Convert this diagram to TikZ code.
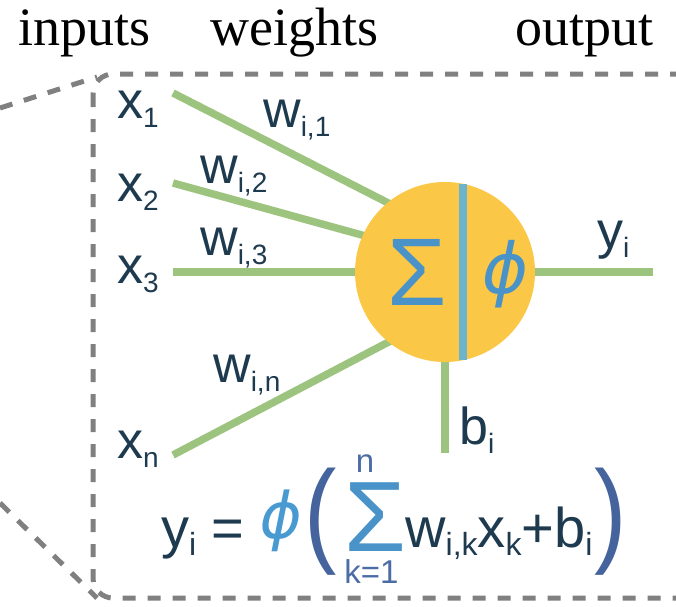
\documentclass[tikz,border=0pt]{standalone}
\usepackage{fontspec}
\setmainfont{Liberation Serif}
\newfontfamily\sansf{Liberation Sans}
\newfontfamily\phif[FakeSlant=0.2]{DejaVu Sans}
\definecolor{ink}{HTML}{1E3A4F}
\definecolor{wirec}{HTML}{9CC47F}
\definecolor{sun}{HTML}{FBC747}
\definecolor{divc}{HTML}{6CB3CC}
\definecolor{symb}{HTML}{4A93C9}
\definecolor{phic}{HTML}{4A9AD2}
\definecolor{limc}{HTML}{4C6CA6}
\definecolor{parc}{HTML}{45639C}
\definecolor{boxc}{HTML}{808080}
\newcommand\lsub[1]{\raisebox{-9pt}{\fontsize{28}{28}\selectfont #1}}
\newcommand\fsub[1]{\raisebox{-8pt}{\fontsize{32}{32}\selectfont #1}}
\begin{document}
\begin{tikzpicture}[x=1pt,y=-1pt,
  head/.style={inner sep=0pt, anchor=base west, font=\fontsize{54}{54}\selectfont},
  lbl/.style={inner sep=0pt, anchor=base west, text=ink, font={\sansf\fontsize{52}{52}\selectfont}},
  flbl/.style={inner sep=0pt, anchor=base west, text=ink, font={\sansf\fontsize{56}{56}\selectfont}},
  dashbox/.style={draw=boxc, line width=5pt, dash pattern=on 13pt off 12pt},
  wire/.style={draw=wirec, line width=7.5pt},
  neuron/.style={circle, fill=sun, minimum size=180pt, inner sep=0pt},
  divider/.style={draw=divc, line width=8pt},
  sym/.style={inner sep=0pt, text=symb, font={\sansf\fontsize{96}{96}\selectfont}},
  phisym/.style={inner sep=0pt, text=symb, font={\phif\fontsize{70}{70}\selectfont}},
  fphisym/.style={inner sep=0pt, text=phic, font={\phif\fontsize{64}{64}\selectfont}},
  paren/.style={inner sep=0pt, text=parc, font={\sansf\fontsize{72}{72}\selectfont}},
  bigsig/.style={inner sep=0pt, text=symb, font={\sansf\fontsize{100}{100}\selectfont}},
  lim/.style={inner sep=0pt, text=limc, font={\sansf\fontsize{33}{33}\selectfont}}
]
\useasboundingbox (0,0) rectangle (676,606);
% headings
\node[head] (hin) at (18,45) {inputs};
\node[head] (hw) at (210,45) {weights};
\node[head] (hout) at (515,45) {output};
% dashed call-out
\draw[dashbox, rounded corners=20pt] (93,74) rectangle (712,598);
\coordinate (zt) at (0,108);
\coordinate (zb) at (0,503);
\coordinate (ct) at (97,77);
\coordinate (cb) at (97,598);
\draw[dashbox] (zt) -- (ct);
\draw[dashbox] (zb) -- (cb);
% wires
\coordinate (s1) at (173,93);  \coordinate (e1) at (400,209);
\coordinate (s2) at (173,183); \coordinate (e2) at (380,240);
\coordinate (s3) at (173,272); \coordinate (e3) at (380,272);
\coordinate (sn) at (173,455); \coordinate (en) at (400,336);
\coordinate (so) at (520,272); \coordinate (eo) at (653,272);
\coordinate (sb) at (445,340); \coordinate (eb) at (445,453);
\draw[wire] (s1) -- (e1);
\draw[wire] (s2) -- (e2);
\draw[wire] (s3) -- (e3);
\draw[wire] (sn) -- (en);
\draw[wire] (so) -- (eo);
\draw[wire] (sb) -- (eb);
% neuron
\node[neuron] (nrn) at (445,272) {};
\coordinate (dt) at (463,184);
\coordinate (db) at (463,360);
\draw[divider] (dt) -- (db);
\node[sym] (sig) at (417,272.5) {Σ};
\node[phisym] (phi) at (502,274) {ϕ};
% labels
\node[lbl] (x1) at (117,118) {x\lsub{1}};
\node[lbl] (x2) at (117,201) {x\lsub{2}};
\node[lbl] (x3) at (117,283) {x\lsub{3}};
\node[lbl] (xn) at (117,458) {x\lsub{n}};
\node[lbl] (w1) at (263,127) {w\lsub{i,1}};
\node[lbl] (w2) at (200,183) {w\lsub{i,2}};
\node[lbl] (w3) at (200,255) {w\lsub{i,3}};
\node[lbl] (wn) at (213,382) {w\lsub{i,n}};
\node[lbl] (yo) at (597,248) {y\lsub{i}};
\node[lbl] (bi) at (459,444) {b\lsub{i}};
% formula
\node[flbl] (fy) at (161,547) {y\fsub{i}};
\node[flbl] (feq) at (211,547) {=};
\node[fphisym] (fphi) at (278,521) {ϕ};
\node[paren] (lp) at (321,522) {\scalebox{1.35}[1.6]{(}};
\node[bigsig] (fsig) at (375,517) {Σ};
\node[lim] (up) at (365,464) {n};
\node[lim] (lo) at (371.5,572) {k=1};
\node[flbl] (fbody) at (405,547) {w\fsub{i,k}x\fsub{k}+b\fsub{i}};
\node[paren] (rp) at (611,522) {\scalebox{1.35}[1.6]{)}};
\end{tikzpicture}
\end{document}
